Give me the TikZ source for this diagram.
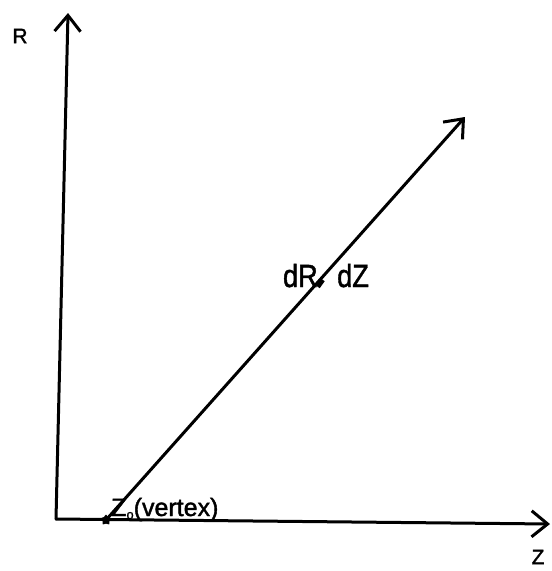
\documentclass[tikz,border=0pt]{standalone}
\usepackage{fontspec}
\setmainfont[FakeBold=1.5,AutoFakeBold=1.5]{Liberation Sans}
\usetikzlibrary{arrows.meta,shapes.geometric}
\begin{document}
\begin{tikzpicture}[x=1pt,y=-1pt,
  axis/.style={line width=3pt,line cap=round,-{Straight Barb[length=16pt,width=26pt,line width=3pt]}},
  lbl/.style={inner sep=0pt,font=\fontsize{21}{21}\selectfont\bfseries},
  big/.style={inner sep=0pt,font=\fontsize{32}{32}\selectfont}]
\useasboundingbox (0,0) rectangle (552,571);
\coordinate (O) at (56,519);
\coordinate (Rtop) at (68,13);
\coordinate (Zend) at (550,524);
\coordinate (V) at (106,520);
\coordinate (Dend) at (465,117);
\draw[axis] (O) -- (Rtop);
\draw[axis] (O) -- (Zend);
\draw[axis] (V) -- (Dend);
\node[lbl] (R) at (20,36) {R};
\node[lbl] (Z) at (538,557) {Z};
\node[big,anchor=base east] (dR) at (318,287) {\scalebox{0.85}[1]{dR}};
\node[big,anchor=base west] (dZ) at (337,287) {\scalebox{0.85}[1]{dZ}};
\node[star,star points=5,fill=black,inner sep=0pt,minimum size=11pt] (st) at (V) {};
\node[anchor=base west,inner sep=0pt,font=\fontsize{25}{25}\selectfont] (Z0) at (111,516) {Z\raisebox{-3pt}{\fontsize{13}{13}\selectfont o}(vertex)};
\draw[line width=4.2pt] (318,287) -- (323,280);
\end{tikzpicture}
\end{document}
